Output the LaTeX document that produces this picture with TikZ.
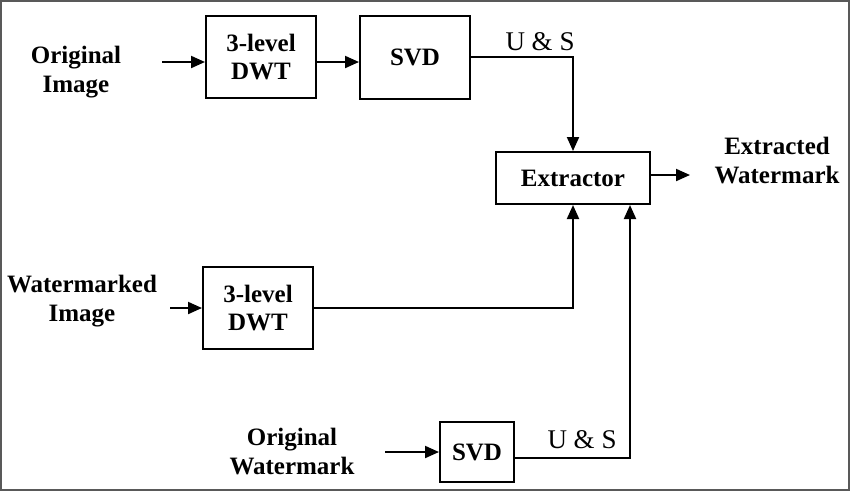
\documentclass[tikz,border=0pt]{standalone}
\usepackage{fontspec}
\setmainfont{Liberation Serif}
\usetikzlibrary{arrows.meta}

\tikzset{
    blk/.style={draw, line width=1pt, font=\bfseries\fontsize{12.5}{14}\selectfont, align=center, inner sep=0pt},
    lbl/.style={font=\bfseries\fontsize{12.5}{14.5}\selectfont, align=center},
    arr/.style={line width=1pt, -{Triangle[length=7pt,width=6pt]}},
    wire/.style={line width=1pt}
}

\begin{document}
\begin{tikzpicture}[x=0.5pt, y=-0.5pt]
    \useasboundingbox (0,0) rectangle (850,494);
    \draw[line width=1pt, black!65] (1,1) rectangle (849,490);
    % blocks
    \node[blk, minimum width=55pt, minimum height=41pt] (dwtA) at (261,57) {3-level\\DWT};
    \node[blk, minimum width=55pt, minimum height=41.5pt] (svdA) at (415,57) {SVD};
    \node[blk, minimum width=77pt, minimum height=26pt] (ext) at (573,178) {Extractor};
    \node[blk, minimum width=55pt, minimum height=41pt] (dwtB) at (258,308) {3-level\\DWT};
    \node[blk, minimum width=37pt, minimum height=30pt] (svdB) at (477,452) {SVD};
    % texts
    \node[lbl] (oimg) at (76,72) {Original\\Image};
    \node[lbl] (wimg) at (82,301) {Watermarked\\Image};
    \node[lbl] (owm) at (292,452) {Original\\Watermark};
    \node[lbl] (xwm) at (777,161) {Extracted\\Watermark};
    \node[font=\fontsize{13.5}{15}\selectfont] (usA) at (540,42) {U \& S};
    \node[font=\fontsize{13.5}{15}\selectfont] (usB) at (582,440) {U \& S};
    % connectors
    \coordinate (inA) at (162,62);
    \coordinate (inB) at (170,308);
    \coordinate (inC) at (385,452);
    \draw[arr] (inA) -- (inA -| dwtA.west);
    \draw[arr] (dwtA.east |- inA) -- (svdA.west |- inA);
    \draw[arr] (inB) -- (inB -| dwtB.west);
    \draw[arr] (inC) -- (inC -| svdB.west);
    \draw[arr] (svdA.east) -| (ext.north);
    \draw[arr] (dwtB.east) -| (ext.south);
    \draw[arr] (svdB.east |- 0,458) -| (ext.south -| 630,0);
    \draw[arr] (ext.east |- 0,175) -- (690,175);
\end{tikzpicture}
\end{document}
